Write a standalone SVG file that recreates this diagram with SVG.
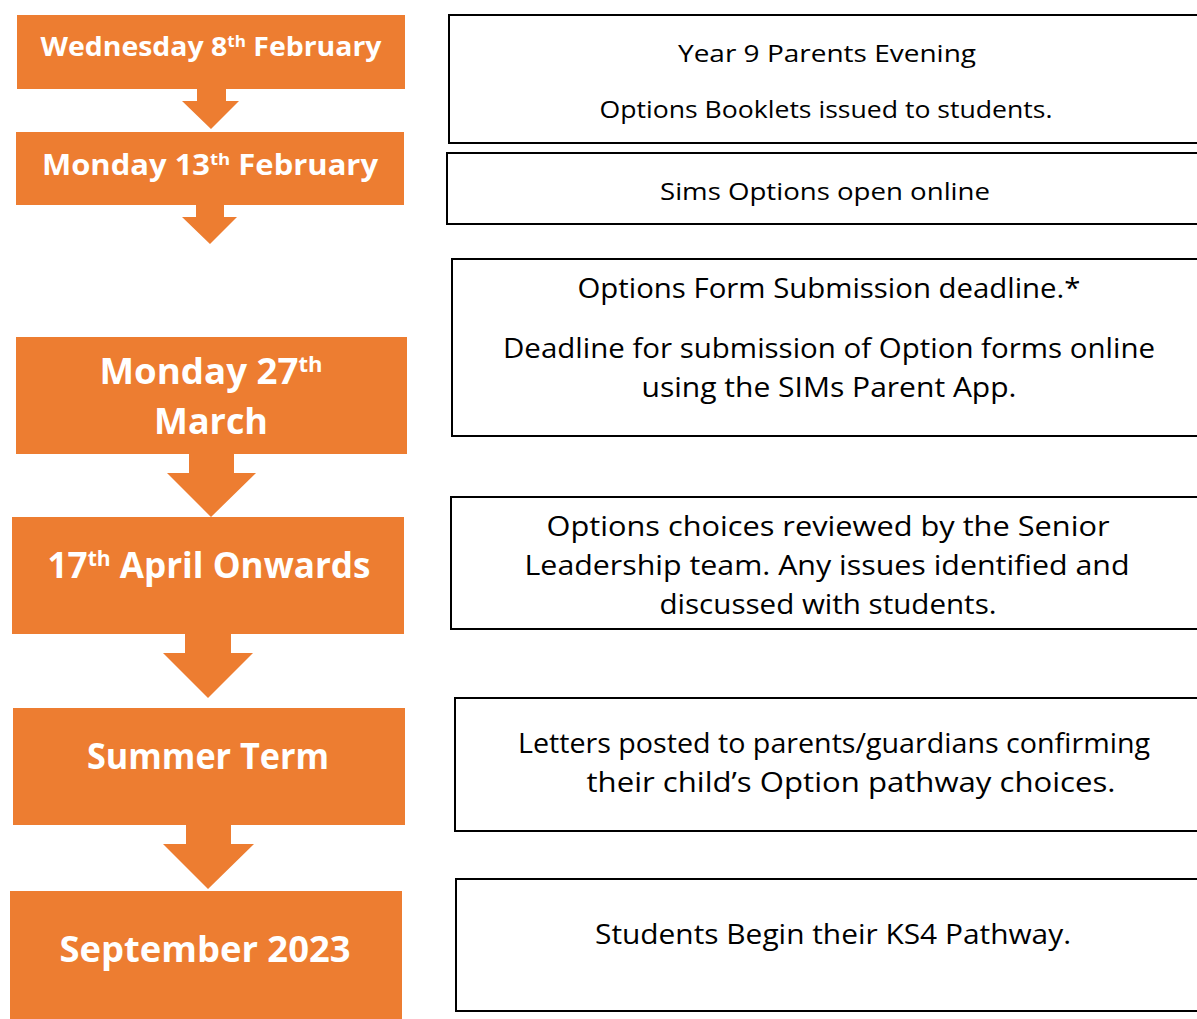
<svg xmlns="http://www.w3.org/2000/svg" width="1197" height="1019" viewBox="0 0 1197 1019">
<style>
.ob{fill:#ED7D31}
.ot{fill:#fff;font-family:"Open Sans","DejaVu Sans",sans-serif;font-weight:700;text-anchor:middle}
.wb{fill:#fff;stroke:#000;stroke-width:2}
.wt{fill:#000;font-family:"Open Sans","DejaVu Sans",sans-serif;font-weight:400;text-anchor:middle}
.sup{font-size:60%}
</style>
<rect width="1197" height="1019" fill="#fff"/>
<g id="connectors" class="ob">
<polygon points="197,89 226,89 226,101 239,101 211,129 182,101 197,101"/>
<polygon points="196,205 224,205 224,217 237,217 210,244 182,217 196,217"/>
<polygon points="189,454 234,454 234,473 256,473 211,517 167,473 189,473"/>
<polygon points="185,634 231,634 231,653 253,653 208,698 163,653 185,653"/>
<polygon points="186,825 231,825 231,844 254,844 208,889 163,844 186,844"/>
</g>
<g id="n1"><rect class="ob" x="17" y="15" width="388" height="74"/>
<text class="ot" x="211" y="56" font-size="27" textLength="341" lengthAdjust="spacingAndGlyphs">Wednesday 8<tspan class="sup" dy="-9">th</tspan><tspan dy="9"> February</tspan></text></g>
<g id="n2"><rect class="ob" x="16" y="132" width="388" height="73"/>
<text class="ot" x="210" y="175" font-size="28" textLength="336" lengthAdjust="spacingAndGlyphs">Monday 13<tspan class="sup" dy="-10">th</tspan><tspan dy="10"> February</tspan></text></g>
<g id="n3"><rect class="ob" x="16" y="337" width="391" height="117"/>
<text class="ot" x="211" y="384" font-size="35" textLength="223" lengthAdjust="spacingAndGlyphs">Monday 27<tspan class="sup" dy="-12">th</tspan></text>
<text class="ot" x="211" y="434" font-size="35" textLength="114" lengthAdjust="spacingAndGlyphs">March</text></g>
<g id="n4"><rect class="ob" x="12" y="517" width="392" height="117"/>
<text class="ot" x="209" y="578" font-size="35" textLength="323" lengthAdjust="spacingAndGlyphs">17<tspan class="sup" dy="-12">th</tspan><tspan dy="12"> April Onwards</tspan></text></g>
<g id="n5"><rect class="ob" x="13" y="708" width="392" height="117"/>
<text class="ot" x="208" y="769" font-size="35" textLength="242" lengthAdjust="spacingAndGlyphs">Summer Term</text></g>
<g id="n6"><rect class="ob" x="10" y="891" width="392" height="128"/>
<text class="ot" x="205" y="962" font-size="35" textLength="291" lengthAdjust="spacingAndGlyphs">September 2023</text></g>
<g id="d1"><rect class="wb" x="449" y="15" width="760" height="128"/>
<text class="wt" x="827" y="62" font-size="24" textLength="298" lengthAdjust="spacingAndGlyphs">Year 9 Parents Evening</text>
<text class="wt" x="826" y="118" font-size="24" textLength="453" lengthAdjust="spacingAndGlyphs">Options Booklets issued to students.</text></g>
<g id="d2"><rect class="wb" x="447" y="153" width="760" height="71"/>
<text class="wt" x="825" y="200" font-size="24" textLength="330" lengthAdjust="spacingAndGlyphs">Sims Options open online</text></g>
<g id="d3"><rect class="wb" x="452" y="259" width="760" height="177"/>
<text class="wt" x="829" y="298" font-size="28" textLength="503" lengthAdjust="spacingAndGlyphs">Options Form Submission deadline.*</text>
<text class="wt" x="829" y="358" font-size="28" textLength="652" lengthAdjust="spacingAndGlyphs">Deadline for submission of Option forms online</text>
<text class="wt" x="829" y="397" font-size="28" textLength="375" lengthAdjust="spacingAndGlyphs">using the SIMs Parent App.</text></g>
<g id="d4"><rect class="wb" x="451" y="497" width="760" height="132"/>
<text class="wt" x="828" y="536" font-size="28" textLength="563" lengthAdjust="spacingAndGlyphs">Options choices reviewed by the Senior</text>
<text class="wt" x="827" y="575" font-size="28" textLength="605" lengthAdjust="spacingAndGlyphs">Leadership team. Any issues identified and</text>
<text class="wt" x="828" y="614" font-size="28" textLength="337" lengthAdjust="spacingAndGlyphs">discussed with students.</text></g>
<g id="d5"><rect class="wb" x="455" y="698" width="760" height="133"/>
<text class="wt" x="834" y="753" font-size="28" textLength="632" lengthAdjust="spacingAndGlyphs">Letters posted to parents/guardians confirming</text>
<text class="wt" x="851" y="792" font-size="28" textLength="529" lengthAdjust="spacingAndGlyphs">their child’s Option pathway choices.</text></g>
<g id="d6"><rect class="wb" x="456" y="879" width="760" height="132"/>
<text class="wt" x="833" y="944" font-size="28" textLength="476" lengthAdjust="spacingAndGlyphs">Students Begin their KS4 Pathway.</text></g>
</svg>
